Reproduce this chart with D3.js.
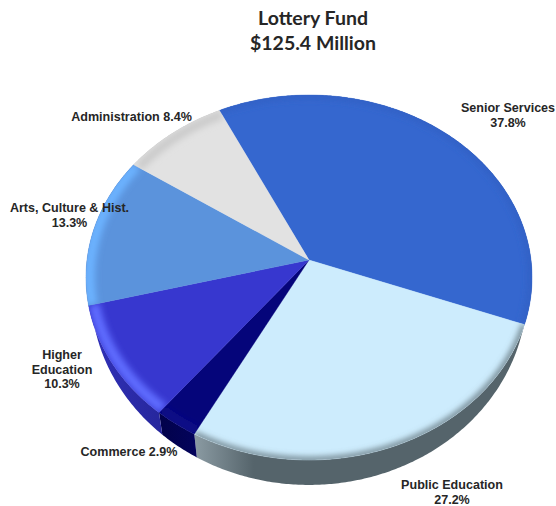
<!DOCTYPE html>
<html><head><meta charset="utf-8">
<script src="https://cdn.jsdelivr.net/npm/d3@7/dist/d3.min.js"></script>
<style>html,body{margin:0;padding:0;background:#fff}svg{display:block}</style></head>
<body><svg id="c" width="556" height="506"></svg>
<script>
const categories = ["Senior Services","Public Education","Commerce","Higher Education","Arts, Culture & Hist.","Administration"];
const shares = [37.8,27.2,2.9,10.3,13.3,8.4];
const titleLines = ["Lottery Fund","$125.4 Million"];
const faceColors = ["#3567cf","#cdecfd","#05057a","#3737cf","#5b93dc","#e2e2e2"];
const rimColors  = ["#3160c4","#5d6e76","#0c0c88","#5e6cff","#6cb2ff","#cbcbcb"];
const rimRadius  = [0.995,1,0.98,0.975,0.985,0.97];
const rimWidth   = [6,5,9,11,11,9];
const wallLeft   = ["#2c55b0","#8b9ba3","#02024a","#3131b8","#3a6ab0","#999999"];
const wallRight  = ["#1d3d88","#55646b","#03035c","#26269c","#3a6ab0","#999999"];
const labelLines = [["Senior Services","37.8%"],["Public Education","27.2%"],["Commerce 2.9%"],["Higher","Education","10.3%"],["Arts, Culture & Hist.","13.3%"],["Administration 8.4%"]];
const labelAt = [[508,112],[452,489],[129,456],[62,359],[69.5,212],[131.5,121]];

const W=556,H=506, cx=309, cy=260, A=222, B=180.8, k=0.0958;
const topMidY=277, bottomMidY=291, wallX=0.978, wallY=1.06;
const svg=d3.select("#c");
const defs=svg.append("defs");
const blur=defs.append("filter").attr("id","soft").attr("x","-30%").attr("y","-30%").attr("width","160%").attr("height","160%");
blur.append("feGaussianBlur").attr("stdDeviation",3);

// projective map of the unit disc: nearer edge is drawn larger
const xScale=d3.scaleLinear().domain([-1,1]).range([cx-A,cx+A]);
const yScale=d3.scaleLinear().domain([-1,1]).range([cy+B,cy-B]);
const proj=(a,r=1)=>{const u=r*Math.sin(a),v=r*Math.cos(a),w=1+k*v;return [xScale(u/w),yScale(v/w)];};
const line=d3.line();
const pie=d3.pie().sort(null).startAngle(-26*Math.PI/180).endAngle(334*Math.PI/180);
const arcs=pie(shares);
const sample=(a0,a1)=>{const n=Math.max(2,Math.ceil((a1-a0)/0.01));return d3.range(n+1).map(i=>a0+(a1-a0)*i/n);};

// side wall
const wall=svg.append("g");
arcs.forEach((d,i)=>{
  const as=sample(d.startAngle,d.endAngle);
  const top=as.map(a=>proj(a));
  const bottom=top.map(p=>[cx+(p[0]-cx)*wallX,bottomMidY+(p[1]-topMidY)*wallY]).reverse();
  const g=defs.append("linearGradient").attr("id","w"+i);
  g.append("stop").attr("offset",0).attr("stop-color",wallLeft[i]);
  g.append("stop").attr("offset",i===1?0.18:1).attr("stop-color",wallRight[i]);
  wall.append("path").attr("d",line(top.concat(bottom))+"Z").attr("fill",`url(#w${i})`);
});

// top face with soft bevel along the rim
const face=svg.append("g");
arcs.forEach((d,i)=>{
  const as=sample(d.startAngle,d.endAngle);
  const rim=as.map(a=>proj(a));
  const outline=line([[cx,cy]].concat(rim))+"Z";
  defs.append("clipPath").attr("id","s"+i).append("path").attr("d",outline);
  face.append("path").attr("d",outline).attr("fill",faceColors[i]).attr("stroke",faceColors[i]).attr("stroke-width",0.4);
  const gg=face.append("g").attr("clip-path",`url(#s${i})`);
  gg.append("path").attr("d",line(as.map(a=>proj(a,rimRadius[i])))).attr("fill","none").attr("stroke",rimColors[i]).attr("stroke-width",rimWidth[i]).attr("filter","url(#soft)");
});

// title
const title=svg.append("text").attr("text-anchor","middle").attr("font-family","Lato").attr("font-weight",700).attr("font-size",19.5).attr("fill","#262626");
titleLines.forEach((t,i)=>title.append("tspan").attr("x",313).attr("y",25+i*25).text(t));

// labels
labelLines.forEach((ls,i)=>{
  const t=svg.append("text").attr("text-anchor","middle").attr("font-family","Liberation Sans").attr("font-weight",700).attr("font-size",12.55).attr("fill","#262626");
  ls.forEach((s,j)=>t.append("tspan").attr("x",labelAt[i][0]).attr("y",labelAt[i][1]+j*14.5).text(s));
});
</script></body></html>
